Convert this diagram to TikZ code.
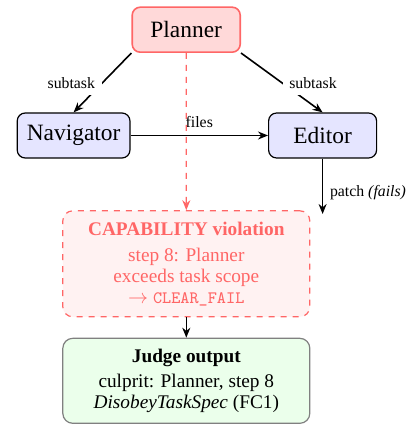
\documentclass[tikz,border=0pt]{standalone}
\usepackage{fontspec}
\setmainfont{Liberation Serif}
\usetikzlibrary{arrows.meta}
\definecolor{violred}{RGB}{255,102,102}

\begin{document}
\begin{tikzpicture}[x=0.5pt,y=-0.5pt,>={Stealth[length=5pt,width=4pt]},
	agent/.style={rectangle,rounded corners=4pt,draw,semithick,minimum width=54pt,minimum height=22.5pt,inner xsep=4.8pt,font=\fontsize{11.7}{14}\selectfont},
	verdict/.style={rectangle,rounded corners=5pt,semithick,minimum width=123.5pt,align=center,font=\fontsize{9.65}{10.5}\selectfont},
	lbl/.style={font=\fontsize{7.9}{9.5}\selectfont}]
		\useasboundingbox (0,0) rectangle (411,426);
%		\draw[help lines] (0,0) grid[step=20] (411,426);
		\path (186.2,29.7) node(planner) [agent,draw=violred,thick,fill=red!15] {Planner};
		\path (73.6,135.5) node(navigator) [agent,fill=blue!10] {Navigator};
		\path (322.6,135.5) node(editor) [agent,fill=blue!10] {Editor};
		\path (322.6,214) coordinate (patch_end);
		\path (186.3,263.8) node(capviol) [verdict,draw=violred,dashed,fill=red!5,text=violred,minimum height=53pt]
			{\textbf{CAPABILITY violation}\\[2.5pt] step 8: Planner\\ exceeds task scope\\ $\rightarrow$ {\fontsize{8.7}{10}\ttfamily CLEAR\_FAIL}};
		\path (186.3,380.8) node(judge) [verdict,draw=black!50,fill=green!8,minimum height=42.5pt]
			{\textbf{Judge output}\\[2pt] culprit: Planner, step 8\\ \emph{DisobeyTaskSpec} (FC1)};

		\draw[thick,->] (planner.south west) -- (navigator.north)
			node[lbl,midway,left,fill=white] {subtask};
		\draw[thick,->] (planner.south east) -- (editor.north)
			node[lbl,midway,right,fill=white] {subtask};
		\draw[thick,->] (navigator) -- (editor)
			node[lbl,midway,above] {files};
		\draw[thick,->] (editor.south) -- (patch_end)
			node[lbl,pos=0.62,right] {patch \emph{(fails)}};
		\draw[thick,->] (capviol.south) -- (judge.north);
		\draw[semithick,violred,dashed,->] (planner.south) -- (capviol.north);
	\end{tikzpicture}
\end{document}
